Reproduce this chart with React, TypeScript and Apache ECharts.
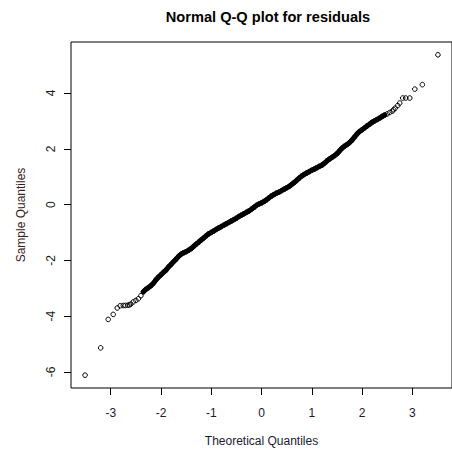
import React, { useEffect, useRef } from "react";
import * as echarts from "echarts";

// Theoretical quantiles (x) and sample quantiles (y)
const theoretical: number[] = [
  -3.51, -3.2, -3.05, -2.95, -2.87, -2.81, -2.75, -2.71, -2.66, -2.63,
  -2.6, -2.55, -2.5, -2.45, -2.4, -2.35, -2.3, -2.25, -2.2, -2.15,
  -2.1, -2.05, -2.0, -1.95, -1.9, -1.85, -1.8, -1.75, -1.7, -1.65,
  -1.6, -1.55, -1.5, -1.45, -1.4, -1.35, -1.3, -1.25, -1.2, -1.15,
  -1.1, -1.05, -1.0, -0.95, -0.9, -0.85, -0.8, -0.75, -0.7, -0.65,
  -0.6, -0.55, -0.5, -0.45, -0.4, -0.35, -0.3, -0.25, -0.2, -0.15,
  -0.1, -0.05, 0.0, 0.05, 0.1, 0.15, 0.2, 0.25, 0.3, 0.35,
  0.4, 0.45, 0.5, 0.55, 0.6, 0.65, 0.7, 0.75, 0.8, 0.85,
  0.9, 0.95, 1.0, 1.05, 1.1, 1.15, 1.2, 1.25, 1.3, 1.35,
  1.4, 1.45, 1.5, 1.55, 1.6, 1.65, 1.7, 1.75, 1.8, 1.85,
  1.9, 1.95, 2.0, 2.05, 2.1, 2.15, 2.2, 2.25, 2.3, 2.35,
  2.4, 2.45, 2.5, 2.55, 2.6, 2.63, 2.66, 2.71, 2.75, 2.81,
  2.87, 2.95, 3.05, 3.2, 3.51,
];

const sample: number[] = [
  -6.12, -5.14, -4.12, -3.94, -3.71, -3.63, -3.62, -3.62, -3.61, -3.6,
  -3.57, -3.49, -3.44, -3.38, -3.27, -3.13, -3.04, -2.98, -2.91, -2.82,
  -2.7, -2.6, -2.52, -2.43, -2.35, -2.24, -2.15, -2.05, -1.96, -1.86,
  -1.78, -1.73, -1.69, -1.64, -1.58, -1.5, -1.42, -1.35, -1.27, -1.2,
  -1.12, -1.05, -1.0, -0.95, -0.89, -0.84, -0.79, -0.74, -0.69, -0.64,
  -0.59, -0.54, -0.49, -0.43, -0.38, -0.33, -0.28, -0.23, -0.17, -0.1,
  -0.03, 0.02, 0.06, 0.11, 0.17, 0.24, 0.31, 0.36, 0.41, 0.45,
  0.5, 0.55, 0.6, 0.65, 0.72, 0.79, 0.87, 0.95, 1.02, 1.08,
  1.13, 1.18, 1.23, 1.27, 1.32, 1.37, 1.41, 1.48, 1.56, 1.63,
  1.69, 1.75, 1.82, 1.92, 2.02, 2.09, 2.15, 2.22, 2.31, 2.42,
  2.53, 2.62, 2.68, 2.75, 2.82, 2.88, 2.95, 3.0, 3.05, 3.1,
  3.16, 3.21, 3.25, 3.3, 3.35, 3.4, 3.46, 3.55, 3.64, 3.82,
  3.82, 3.82, 4.14, 4.3, 5.37,
];

// Range of theoretical quantiles where the points overlap into a solid band
const denseRange: number[] = [-2.35, 2.45];

const xTicks: number[] = [-3, -2, -1, 0, 1, 2, 3];
const yTicks: number[] = [-6, -4, -2, 0, 2, 4];

const FONT = "'Liberation Sans', Arial, sans-serif";

export default function App() {
  const ref = useRef<HTMLDivElement>(null);

  useEffect(() => {
    document.body.style.margin = "0";
    if (!ref.current) return;
    const chart = echarts.init(ref.current, null, { renderer: "svg" });
    const points = theoretical.map((x, i) => [x, sample[i]]);
    const dense = points.filter((p) => p[0] >= denseRange[0] && p[0] <= denseRange[1]);
    chart.setOption({
      animation: false,
      backgroundColor: "#ffffff",
      title: {
        text: "Normal Q-Q plot for residuals",
        left: 263,
        top: 4,
        textAlign: "center",
        textStyle: { fontFamily: FONT, fontSize: 14.6, fontWeight: "bold", color: "#000" },
      },
      grid: {
        left: 71,
        top: 42,
        width: 391,
        height: 347,
        show: true,
        borderColor: "#000",
        borderWidth: 1,
        backgroundColor: "transparent",
      },
      xAxis: {
        type: "value",
        min: -3.79,
        max: 3.79,
        name: "Theoretical Quantiles",
        nameLocation: "middle",
        nameGap: 47,
        nameTextStyle: { fontFamily: FONT, fontSize: 12, color: "#1a1a30" },
        axisLine: { show: false, onZero: false },
        splitLine: { show: false },
        axisTick: {
          show: true,
          length: 7,
          lineStyle: { color: "#000" },
          customValues: xTicks,
        },
        axisLabel: {
          fontFamily: FONT,
          fontSize: 12,
          color: "#1a1a30",
          margin: 19,
          customValues: xTicks,
        },
      },
      yAxis: {
        type: "value",
        min: -6.58,
        max: 5.83,
        name: "Sample Quantiles",
        nameLocation: "middle",
        nameGap: 44,
        nameRotate: 90,
        nameTextStyle: { fontFamily: FONT, fontSize: 12, color: "#3a2020" },
        axisLine: { show: false, onZero: false },
        splitLine: { show: false },
        axisTick: {
          show: true,
          length: 7,
          lineStyle: { color: "#000" },
          customValues: yTicks,
        },
        axisLabel: {
          fontFamily: FONT,
          fontSize: 12,
          color: "#1a1a1a",
          rotate: 90,
          margin: 14,
          customValues: yTicks,
        },
      },
      series: [
        {
          type: "line",
          data: dense,
          showSymbol: false,
          symbol: "none",
          lineStyle: { color: "#000", width: 5, cap: "round", join: "round" },
          emphasis: { disabled: true },
          silent: true,
        },
        {
          type: "scatter",
          data: points,
          symbol: "circle",
          symbolSize: 4.6,
          itemStyle: { color: "transparent", borderColor: "#000", borderWidth: 1, opacity: 1 },
          emphasis: { disabled: true },
        },
      ],
    });
    return () => chart.dispose();
  }, []);

  return <div ref={ref} style={{ width: 452, height: 452 }} />;
}
